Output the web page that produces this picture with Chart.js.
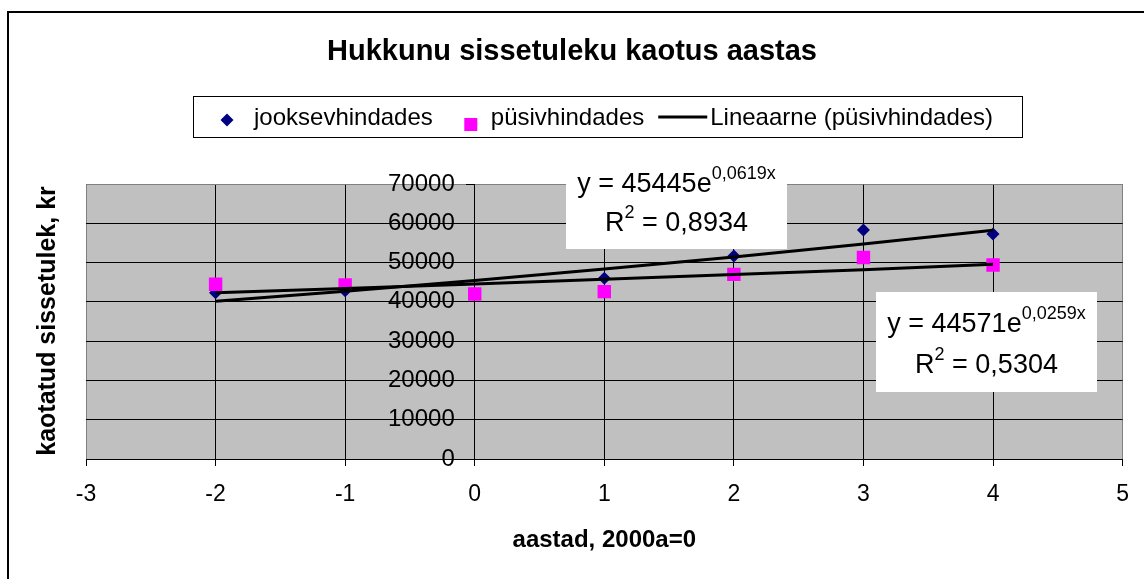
<!DOCTYPE html>
<html><head><meta charset="utf-8">
<script src="https://cdn.jsdelivr.net/npm/chart.js@4.4.1/dist/chart.umd.min.js"></script>
<style>html,body{margin:0;padding:0;background:#fff;overflow:hidden}</style>
</head><body>
<canvas id="c" width="1144" height="579" style="display:block"></canvas>
<script>
// ---- data ----
const chartTitle = 'Hukkunu sissetuleku kaotus aastas';
const xTitle = 'aastad, 2000a=0';
const yTitle = 'kaotatud sissetulek, kr';
const years = [-2, -1, 0, 1, 2, 3, 4];
const jooksevhindades = [42300, 42800, 42000, 46000, 51700, 58300, 57300];
const pusivhindades = [44500, 44300, 42000, 42600, 47000, 51300, 49400];
const trendJooksev = [40150, 42720, 45445, 48350, 51430, 54720, 58200];
const trendPusiv = [42300, 43410, 44570, 45740, 46940, 48180, 49600];
const xTickValues = [-3, -2, -1, 0, 1, 2, 3, 4, 5];
const yTickValues = [0, 10000, 20000, 30000, 40000, 50000, 60000, 70000];
const legendLabels = ['jooksevhindades', 'püsivhindades', 'Lineaarne (püsivhindades)'];
const eqMain = ['y = 45445e', 'y = 44571e'];
const eqSup = ['0,0619x', '0,0259x'];
const eqR2 = ['0,8934', '0,5304'];

// ---- style / layout ----
const FONT = '"Liberation Sans", Arial, Helvetica, sans-serif';
const NAVY = '#000080', PINK = '#ff00ff';
const eqLayout = [
  {l: 566, t: 150, r: 787, b: 249, y1: 192, y2: 231},
  {l: 876, t: 292, r: 1097, b: 392, y1: 332, y2: 373}
];

const pts = (xs, ys) => xs.map((x, i) => ({x, y: ys[i]}));

const deco = {
  id: 'deco',
  beforeDraw(chart) {
    const {ctx, chartArea: a} = chart;
    ctx.save();
    ctx.fillStyle = '#fff';
    ctx.fillRect(0, 0, chart.width, chart.height);
    ctx.fillStyle = '#c0c0c0';
    ctx.fillRect(a.left, a.top, a.right - a.left, a.bottom - a.top);
    ctx.restore();
    // put y tick labels left of the tick marks of the axis that crosses at x = 0
    const x0 = chart.scales.x.getPixelForValue(0);
    chart.scales.y.getLabelItems().forEach(it => { it.options.translation[0] = x0 - 20; });
  },
  afterDraw(chart) {
    const ctx = chart.ctx;
    ctx.save();
    // outer frame
    ctx.strokeStyle = '#000'; ctx.lineWidth = 2;
    ctx.strokeRect(8, 12, 1300, 800);

    // main title
    ctx.fillStyle = '#000';
    ctx.font = `bold 29px ${FONT}`; ctx.textAlign = 'center'; ctx.textBaseline = 'middle';
    ctx.fillText(chartTitle, 572, 52);

    // y axis title
    ctx.save();
    ctx.font = `bold 25px ${FONT}`; ctx.fillStyle = '#000';
    ctx.textAlign = 'center'; ctx.textBaseline = 'middle';
    ctx.translate(48, 321); ctx.rotate(-Math.PI / 2);
    ctx.fillText(yTitle, 0, 0);
    ctx.restore();

    // legend
    ctx.strokeStyle = '#000'; ctx.lineWidth = 1;
    ctx.fillStyle = '#fff';
    ctx.fillRect(193.5, 96.5, 829, 41);
    ctx.strokeRect(193.5, 96.5, 829, 41);
    ctx.font = `24px ${FONT}`; ctx.textAlign = 'left'; ctx.textBaseline = 'alphabetic';
    let cx = 227;
    ctx.fillStyle = NAVY;
    Chart.helpers.drawPoint(ctx, {pointStyle: 'rectRot', radius: 6.5, borderWidth: 0}, cx, 120);
    let tx = 254;
    ctx.fillStyle = '#000'; ctx.fillText(legendLabels[0], tx, 125);
    tx += ctx.measureText(legendLabels[0]).width;
    cx = tx + 38;
    ctx.fillStyle = PINK; ctx.fillRect(cx - 6.5, 118, 13, 13);
    tx = cx + 20;
    ctx.fillStyle = '#000'; ctx.fillText(legendLabels[1], tx, 125);
    tx += ctx.measureText(legendLabels[1]).width;
    ctx.strokeStyle = '#000'; ctx.lineWidth = 3;
    ctx.beginPath(); ctx.moveTo(tx + 14, 117); ctx.lineTo(tx + 63, 117); ctx.stroke();
    ctx.fillText(legendLabels[2], tx + 66, 125);

    // equation boxes
    const MF = 27, SF = 18;
    eqLayout.forEach((b, i) => {
      ctx.fillStyle = '#fff';
      ctx.fillRect(b.l, b.t, b.r - b.l, b.b - b.t);
      ctx.fillStyle = '#000';
      const cxm = (b.l + b.r) / 2;
      ctx.font = `${MF}px ${FONT}`;
      const w1 = ctx.measureText(eqMain[i]).width;
      ctx.font = `${SF}px ${FONT}`;
      const w2 = ctx.measureText(eqSup[i]).width;
      let x0 = cxm - (w1 + w2) / 2;
      ctx.font = `${MF}px ${FONT}`; ctx.fillText(eqMain[i], x0, b.y1);
      ctx.font = `${SF}px ${FONT}`; ctx.fillText(eqSup[i], x0 + w1, b.y1 - 13);
      const rest = ' = ' + eqR2[i];
      ctx.font = `${MF}px ${FONT}`;
      const wr = ctx.measureText('R').width, wrest = ctx.measureText(rest).width;
      ctx.font = `${SF}px ${FONT}`;
      const w2b = ctx.measureText('2').width;
      x0 = cxm - (wr + w2b + wrest) / 2;
      ctx.font = `${MF}px ${FONT}`; ctx.fillText('R', x0, b.y2);
      ctx.font = `${SF}px ${FONT}`; ctx.fillText('2', x0 + wr, b.y2 - 13);
      ctx.font = `${MF}px ${FONT}`; ctx.fillText(rest, x0 + wr + w2b, b.y2);
    });
    ctx.restore();
  }
};

new Chart(document.getElementById('c'), {
  type: 'scatter',
  data: {
    datasets: [
      {label: legendLabels[2], data: pts(years, trendPusiv), showLine: true, borderColor: '#000',
       borderWidth: 3, pointRadius: 0, order: 0},
      {label: 'trend jooksevhindades', data: pts(years, trendJooksev), showLine: true, borderColor: '#000',
       borderWidth: 3, pointRadius: 0, order: 0},
      {label: legendLabels[1], data: pts(years, pusivhindades), pointStyle: 'rect', pointRadius: 9.5,
       backgroundColor: PINK, borderWidth: 0, order: 1},
      {label: legendLabels[0], data: pts(years, jooksevhindades), pointStyle: 'rectRot', pointRadius: 6.5,
       backgroundColor: NAVY, borderWidth: 0, order: 2}
    ]
  },
  options: {
    responsive: false, animation: false, devicePixelRatio: 1,
    events: [],
    layout: {padding: {left: 86, right: 17, top: 184, bottom: 0}},
    plugins: {
      legend: {display: false}, tooltip: {enabled: false}, title: {display: false}
    },
    scales: {
      x: {
        type: 'linear', min: -3, max: 5,
        afterBuildTicks: s => { s.ticks = xTickValues.map(v => ({value: v})); },
        ticks: {color: '#000', font: {family: FONT, size: 23}, padding: 15, autoSkip: false, maxRotation: 0},
        grid: {color: c => (c.tick && (c.tick.value === -3 || c.tick.value === 5)) ? '#808080' : '#000',
               tickColor: '#000', tickLength: 7, lineWidth: 1},
        border: {color: '#000', width: 1},
        title: {display: true, text: xTitle, color: '#000',
          font: {family: FONT, size: 24, weight: 'bold'}, padding: {top: 2, bottom: 24.6}}
      },
      y: {
        type: 'linear', min: 0, max: 70000, position: {x: 0},
        afterBuildTicks: s => { s.ticks = yTickValues.map(v => ({value: v})); },
        ticks: {color: '#000', font: {family: FONT, size: 24}, padding: 12, callback: v => String(v)},
        grid: {color: c => (c.tick && c.tick.value === 70000) ? '#808080' : '#000',
               tickColor: '#000', tickLength: 8, lineWidth: 1},
        border: {color: '#000', width: 1}
      }
    }
  },
  plugins: [deco]
});
</script>
</body></html>
